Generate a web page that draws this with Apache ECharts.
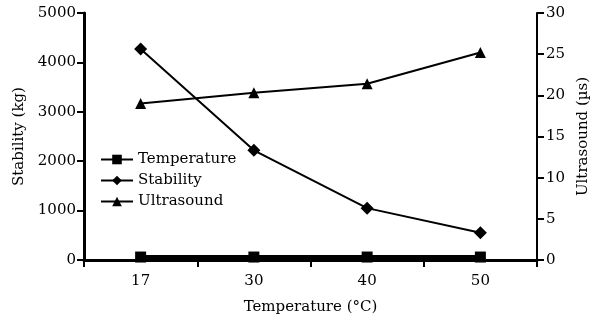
<!DOCTYPE html>
<html>
<head>
<meta charset="utf-8">
<script src="https://cdn.jsdelivr.net/npm/echarts@6/dist/echarts.min.js"></script>
<style>
  html, body { margin: 0; padding: 0; background: #fff; }
  #chart { width: 593px; height: 324px; }
</style>
</head>
<body>
<div id="chart"></div>
<script>
// 数据
const categories = ['17', '30', '40', '50']
const temperature = [60, 60, 60, 60] // drawn on the kg axis, sits just above 0
const stability = [4270, 2220, 1050, 550]
const ultrasound = [19.0, 20.3, 21.4, 25.2]

const font = 'DejaVu Serif'
const chart = echarts.init(document.getElementById('chart'))

const option = {
  animation: false,
  grid: { left: 84, right: 56, top: 13, bottom: 64, outerBoundsMode: 'none' },
  legend: {
    orient: 'vertical',
    left: 95,
    top: 147,
    itemWidth: 32,
    itemHeight: 12,
    itemGap: 6,
    textStyle: { fontFamily: font, fontSize: 15, color: '#000' },
    data: ['Temperature', 'Stability', 'Ultrasound'],
  },
  xAxis: {
    type: 'category',
    data: categories,
    name: 'Temperature (°C)',
    nameLocation: 'middle',
    nameGap: 40,
    nameTextStyle: { fontFamily: font, fontSize: 15, color: '#000' },
    axisLine: { lineStyle: { color: '#000', width: 3 } },
    axisTick: { show: true, length: 7, lineStyle: { color: '#000', width: 2 } },
    axisLabel: { fontFamily: font, fontSize: 15, color: '#000', margin: 14 },
  },
  yAxis: [
    {
      type: 'value',
      min: 0,
      max: 5000,
      interval: 1000,
      name: 'Stability (kg)',
      nameLocation: 'middle',
      nameRotate: 90,
      nameGap: 52,
      nameTextStyle: { fontFamily: font, fontSize: 15, color: '#000' },
      axisLine: { show: true, lineStyle: { color: '#000', width: 3 } },
      axisTick: { show: true, length: 7, lineStyle: { color: '#000', width: 2 } },
      axisLabel: { fontFamily: font, fontSize: 15, color: '#000', margin: 8, formatter: (v) => String(v) },
      splitLine: { show: false },
    },
    {
      type: 'value',
      min: 0,
      max: 30,
      interval: 5,
      position: 'right',
      name: 'Ultrasound (µs)',
      nameLocation: 'middle',
      nameRotate: 90,
      nameGap: 34,
      nameTextStyle: { fontFamily: font, fontSize: 15, color: '#000' },
      axisLine: { show: true, lineStyle: { color: '#000', width: 2 } },
      axisTick: { show: true, length: 7, lineStyle: { color: '#000', width: 2 } },
      axisLabel: { fontFamily: font, fontSize: 15, color: '#000', margin: 9 },
      splitLine: { show: false },
    },
  ],
  series: [
    {
      name: 'Temperature',
      type: 'line',
      yAxisIndex: 0,
      data: temperature,
      symbol: 'rect',
      symbolSize: 11,
      lineStyle: { color: '#000', width: 4 },
      itemStyle: { color: '#000' },
    },
    {
      name: 'Stability',
      type: 'line',
      yAxisIndex: 0,
      data: stability,
      symbol: 'diamond',
      symbolSize: 13,
      lineStyle: { color: '#000', width: 2 },
      itemStyle: { color: '#000' },
    },
    {
      name: 'Ultrasound',
      type: 'line',
      yAxisIndex: 1,
      data: ultrasound,
      symbol: 'triangle',
      symbolSize: 11,
      lineStyle: { color: '#000', width: 2 },
      itemStyle: { color: '#000' },
    },
  ],
}
chart.setOption(option)
</script>
</body>
</html>
